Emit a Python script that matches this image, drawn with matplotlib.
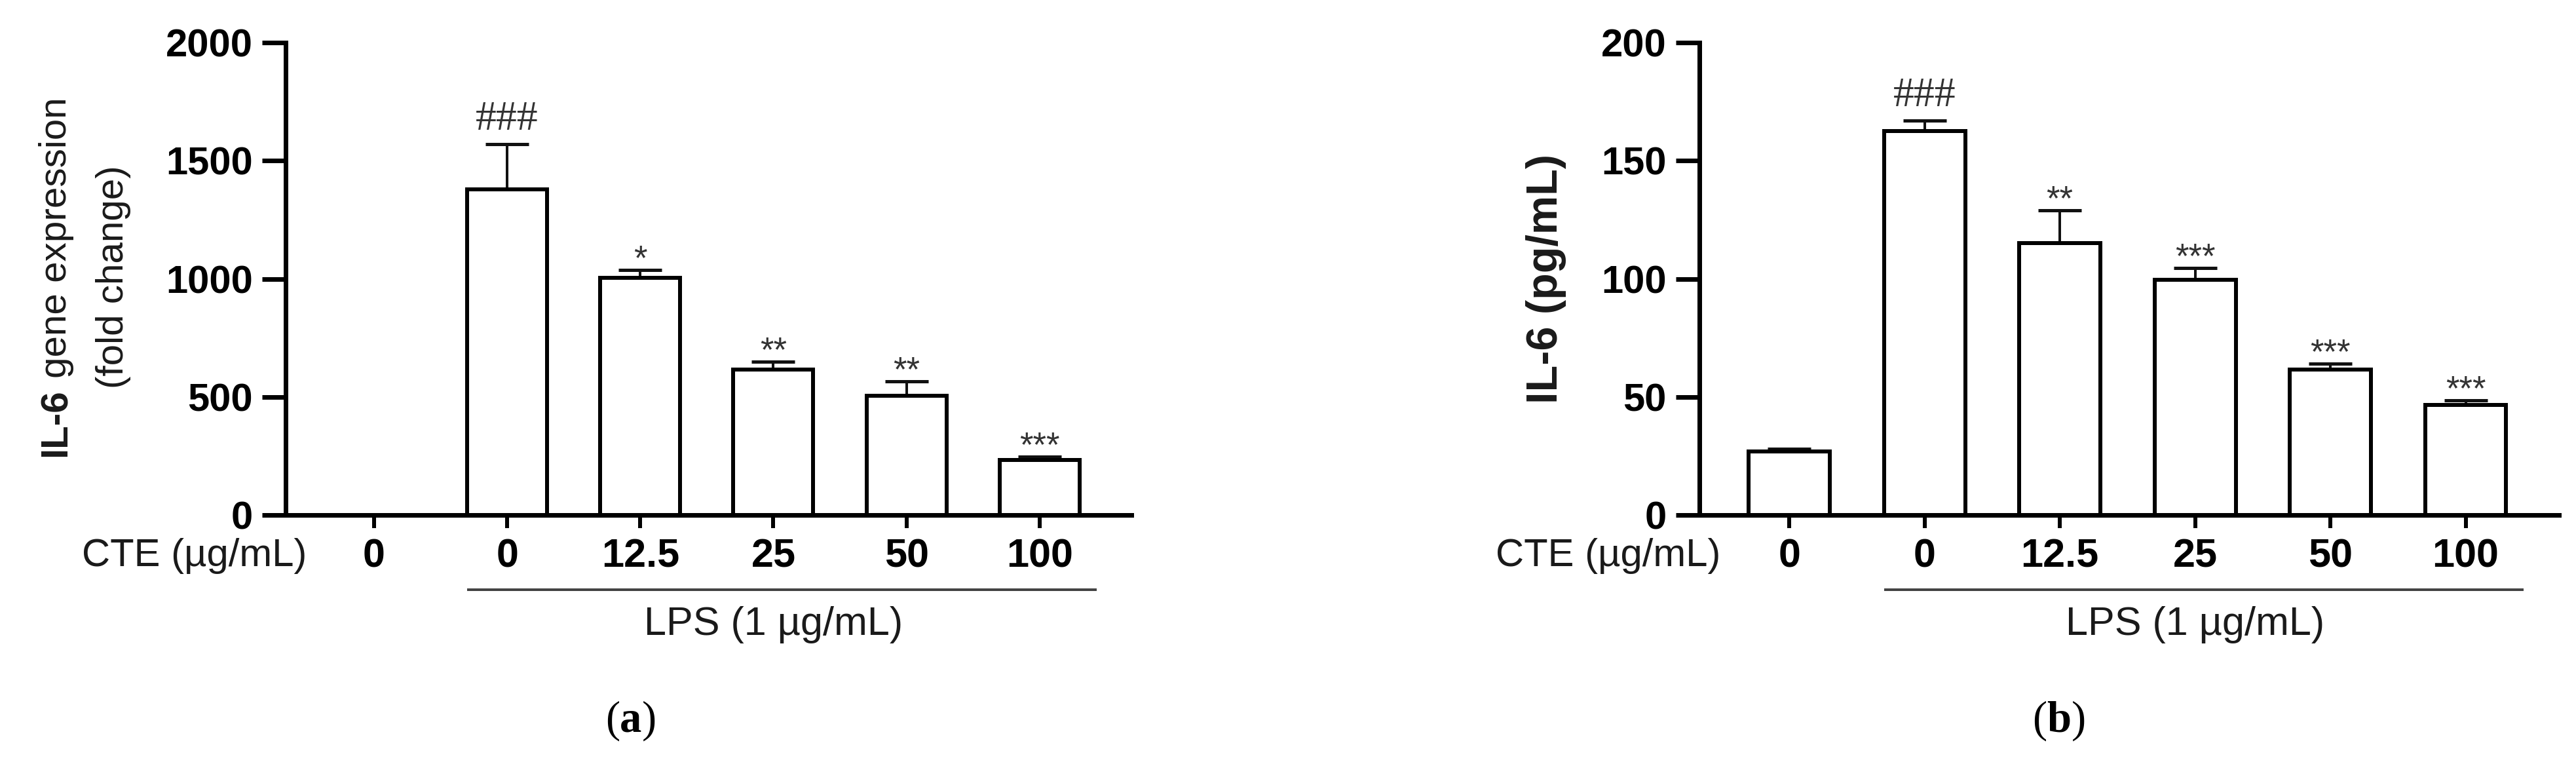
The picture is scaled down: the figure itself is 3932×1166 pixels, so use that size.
import matplotlib
matplotlib.use('Agg')
import matplotlib.pyplot as plt
from matplotlib.transforms import blended_transform_factory

plt.rcParams['font.family'] = ['Liberation Sans', 'DejaVu Sans']

W, H = 3932, 1166
DPI = 100

cte_labels = ['0', '0', '12.5', '25', '50', '100']

# (a) IL-6 gene expression, fold change
gene_mean = [0, 1380, 1003, 615, 505, 233]
gene_err = [0, 190, 35, 35, 60, 14]
gene_marks = ['', '###', '*', '**', '**', '***']

# (b) IL-6 protein, pg/mL
prot_mean = [27, 162.5, 115, 99.5, 61.5, 46.5]
prot_err = [1, 4.5, 14, 5, 2.5, 2]
prot_marks = ['', '###', '**', '***', '***', '***']


def pt(n):
    # pixels -> points
    return n * 72 / DPI


def fx(x):
    return x / W


def fy(y):
    return 1 - y / H


fig = plt.figure(figsize=(W / DPI, H / DPI), dpi=DPI)
renderer = fig.canvas.get_renderer()


def text_len(s, **kw):
    t = fig.text(0, 0, s, **kw)
    w = t.get_window_extent(renderer).width
    t.remove()
    return w


def place_runs(cx, cy, runs, rotation=0, **kw):
    # pieces of text with different weights, centred on (cx, cy) in pixels
    sizes = []
    for s, w in runs:
        lead = 0
        if s.startswith(' '):
            lead = text_len('a a', fontweight=w, **kw) - text_len('aa', fontweight=w, **kw)
        sizes.append((lead, text_len(s.strip(), fontweight=w, **kw)))
    pos = -sum(a + b for a, b in sizes) / 2
    for (s, w), (lead, ln) in zip(runs, sizes):
        pos += lead
        if rotation == 90:
            fig.text(fx(cx), fy(cy) + pos / H, s.strip(), rotation=90,
                     ha='center', va='bottom', fontweight=w, **kw)
        else:
            fig.text(fx(cx) + pos / W, fy(cy), s.strip(),
                     ha='left', va='center', fontweight=w, **kw)
        pos += ln


def panel(left, right, mean, err, marks, ymax, yticks):
    ax = fig.add_axes([fx(left), fy(786), fx(right - left), (786 - 65) / H])
    x = list(range(len(mean)))
    ax.bar(x, mean, width=0.6, color='white', edgecolor='black',
           linewidth=pt(6), zorder=3)
    ax.errorbar(x, mean, yerr=[[0] * len(err), err], fmt='none', ecolor='#111111',
                elinewidth=pt(4), capsize=pt(33), capthick=pt(5), zorder=2)
    for xi, m, e, s in zip(x, mean, err, marks):
        if not s:
            continue
        if s.startswith('#'):
            ax.annotate(s, (xi, m + e), xytext=(0, pt(22)), textcoords='offset points',
                        ha='center', va='baseline', fontsize=46,
                        family='Liberation Serif', color='#333333')
        else:
            ax.annotate(s, (xi, m + e), xytext=(0, pt(1)), textcoords='offset points',
                        ha='center', va='baseline', fontsize=38, color='#333333')

    ax.set_xlim(-0.664, 5.69)
    ax.set_ylim(0, ymax)
    ax.set_yticks(yticks)
    ax.set_xticks(x)
    ax.set_xticklabels(cte_labels)
    for s in ['top', 'right']:
        ax.spines[s].set_visible(False)
    for s in ['left', 'bottom']:
        ax.spines[s].set_linewidth(pt(7))
    ax.tick_params(axis='y', length=pt(36), width=pt(7), pad=pt(14), labelsize=43)
    ax.tick_params(axis='x', length=pt(20), width=pt(6), pad=pt(15), labelsize=44)
    for lab in ax.get_xticklabels() + ax.get_yticklabels():
        lab.set_fontweight('bold')

    fig.text(fx(left + 32), fy(849), 'CTE (\u00b5g/mL)', ha='right', va='center',
             fontsize=43, color='#1a1a1a')

    tr = blended_transform_factory(ax.transData, fig.transFigure)
    ax.plot([0.70, 5.43], [fy(900), fy(900)], transform=tr, color='#444444',
            lw=pt(4), clip_on=False, solid_capstyle='butt')
    ax.text(3, fy(953), 'LPS (1 \u00b5g/mL)', transform=tr, ha='center', va='center',
            fontsize=44, color='#1a1a1a')
    return ax


panel(436, 1727, gene_mean, gene_err, gene_marks, 2000, [0, 500, 1000, 1500, 2000])
panel(2594, 3906, prot_mean, prot_err, prot_marks, 200, [0, 50, 100, 150, 200])

# y axis titles
place_runs(86, 423, [('IL-6', 'bold'), (' gene expression', 'normal')],
           rotation=90, fontsize=42, color='#1a1a1a')
fig.text(fx(173), fy(423), '(fold change)', rotation=90, ha='center', va='center',
         fontsize=42, color='#1a1a1a')
fig.text(fx(2360), fy(425), 'IL-6 (pg/mL)', rotation=90, ha='center', va='center',
         fontsize=48, fontweight='bold', color='#1a1a1a')

# panel letters
place_runs(963, 1100, [('(', 'normal'), ('a', 'bold'), (')', 'normal')],
           fontsize=48, family='Liberation Serif')
place_runs(3143, 1100, [('(', 'normal'), ('b', 'bold'), (')', 'normal')],
           fontsize=48, family='Liberation Serif')

fig.savefig('out.png', dpi=DPI)
plt.close(fig)
